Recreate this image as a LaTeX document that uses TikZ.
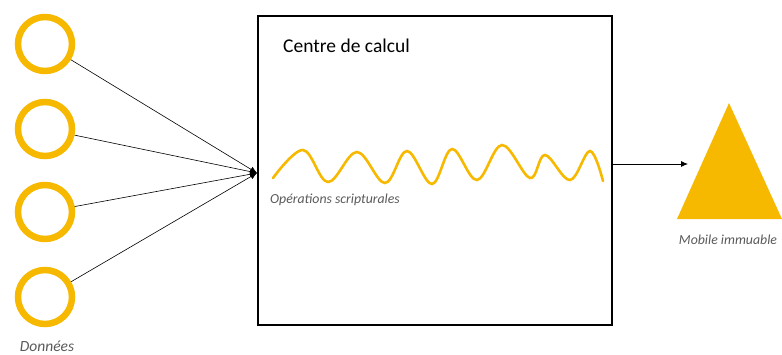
\documentclass[tikz,border=0pt]{standalone}
\usepackage{fontspec}
\setmainfont{Carlito}
\usetikzlibrary{arrows.meta}
\definecolor{jaune}{HTML}{F7B900}
\definecolor{gristxt}{HTML}{5A5A5A}

\begin{document}
\begin{tikzpicture}[x=1pt,y=-1pt,
    ring/.style={circle,draw=jaune,line width=6.5pt,minimum size=54pt,inner sep=0pt},
    legende/.style={font=\fontsize{13.8}{16}\selectfont\itshape,text=gristxt,inner sep=0pt}]
        \useasboundingbox (0,0) rectangle (782,354);
        % donnees
        \node[ring] (d1) at (45,44) {};
        \node[ring] (d2) at (45,129) {};
        \node[ring] (d3) at (45,212) {};
        \node[ring] (d4) at (45,297) {};
        \node[legende,font=\fontsize{15.5}{18}\selectfont\itshape] (donnees) at (47,346) {Données};
        % centre de calcul
        \node[draw,line width=1.3pt,minimum width=354pt,minimum height=309pt,inner sep=0pt] (centre) at (435,170.5) {};
        \node[anchor=west,inner sep=0pt,font=\fontsize{19.5}{22}\selectfont] (titre) at (283,46) {Centre de calcul};
        \coordinate (hub) at (257,173);
        \foreach \i in {1,...,4}
          \draw[line width=0.6pt,-{Latex[length=7pt,width=6pt]}] (d\i) -- (hub);
        % ecriture
        \draw[jaune,line width=2.6pt,line cap=round] plot[smooth,tension=0.6] coordinates {
          (273,178) (303,150) (328,182) (357,152) (385,183) (407,151) (432,184)
          (452,149) (477,180) (502,145) (530,178) (545,155) (570,180) (590,151) (603,181)};
        \node[legende,anchor=west] (ops) at (270,200) {Opérations scripturales};
        % mobile immuable
        \coordinate (pointe) at (688,164);
        \draw[line width=0.8pt,-{Latex[length=7pt,width=6pt]}] (centre.east |- pointe) -- (pointe);
        \fill[jaune] (729,103) -- (782,219) -- (677,219) -- cycle;
        \node[legende] (mobile) at (728,240) {Mobile immuable};
\end{tikzpicture}
\end{document}
